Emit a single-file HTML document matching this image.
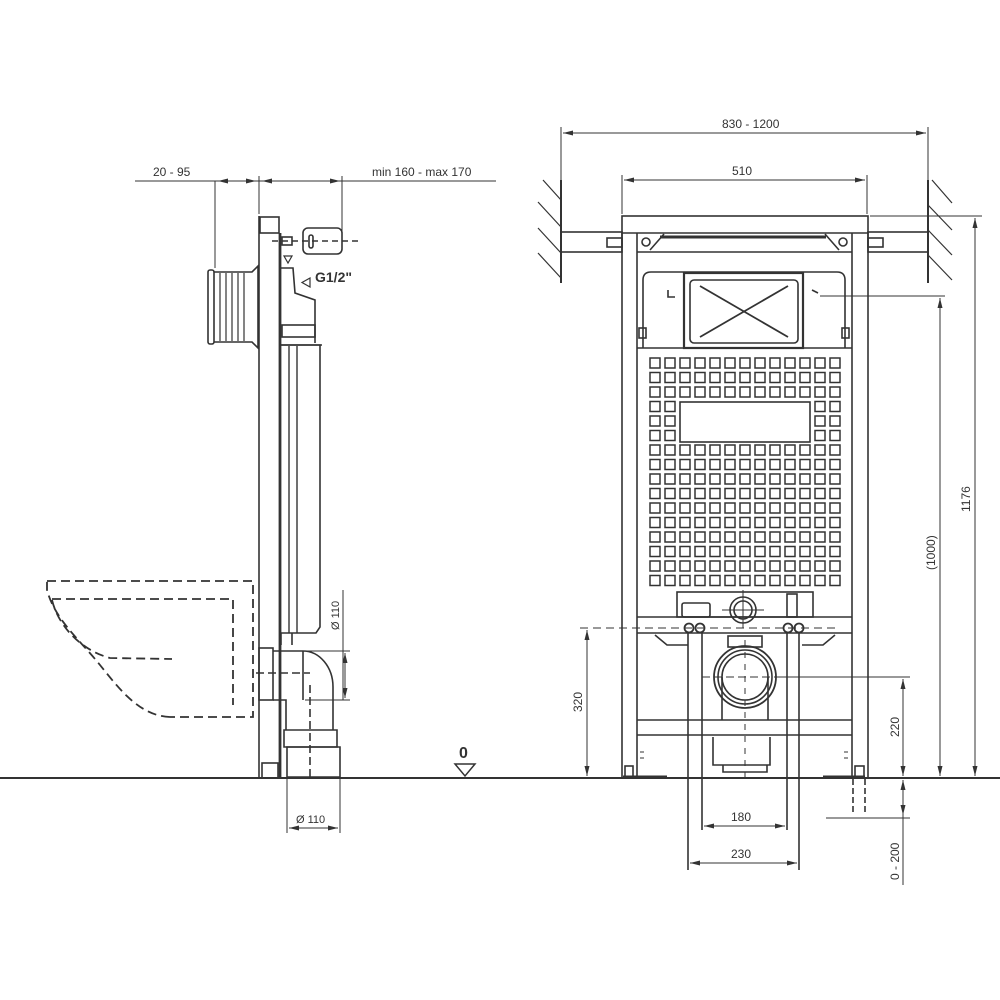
<!DOCTYPE html>
<html><head><meta charset="utf-8"><style>
html,body{margin:0;padding:0;background:#fff}
svg{display:block}
text{font-family:"Liberation Sans",sans-serif;font-size:12px;fill:#333}
</style></head><body>
<svg width="1000" height="1000" viewBox="0 0 1000 1000" xmlns="http://www.w3.org/2000/svg">
<defs>
<marker id="a" viewBox="0 0 10 6" refX="10" refY="3" markerWidth="10" markerHeight="6" orient="auto-start-reverse" markerUnits="userSpaceOnUse"><path d="M0,0.5 L10,3 L0,5.5 Z" fill="#333"/></marker>
</defs>
<g stroke="#333" stroke-width="1.6" fill="none">
<line x1="0" y1="778" x2="1000" y2="778" stroke-width="2"/>

<line x1="135" y1="181" x2="496" y2="181" stroke-width="1"/>
<line x1="215" y1="181" x2="215" y2="268" stroke-width="1"/>
<line x1="259" y1="176" x2="259" y2="214" stroke-width="1"/>
<line x1="342" y1="176" x2="342" y2="232" stroke-width="1"/>
<path d="M218,181 L230,181" marker-start="url(#a)" stroke-width="1"/>
<path d="M244,181 L256,181" marker-end="url(#a)" stroke-width="1"/>
<path d="M262,181 L274,181" marker-start="url(#a)" stroke-width="1"/>
<path d="M328,181 L340,181" marker-end="url(#a)" stroke-width="1"/>
<line x1="259" y1="216" x2="259" y2="778"/>
<line x1="280" y1="233" x2="280" y2="778" stroke-width="2.8"/>
<rect x="260" y="217" width="19" height="16"/>
<rect x="262" y="763" width="16" height="15"/>
<rect x="303" y="228" width="39" height="26" rx="5"/>
<line x1="272" y1="241" x2="362" y2="241" stroke-dasharray="6,4"/>
<rect x="282" y="237" width="10" height="8"/>
<rect x="309" y="235" width="4" height="13" rx="2"/>
<path d="M280,268 L293,268 L295,293 L315,300 L315,343"/>
<path d="M280,345 L322,345"/>
<rect x="282" y="325" width="33" height="12"/>
<path d="M284,256 L292,256 L288,263 Z" stroke-width="1.2"/>
<path d="M310,278 L310,287 L302,282.5 Z" stroke-width="1.2"/>
<rect x="208" y="270" width="6" height="74" rx="2"/>
<path d="M214,272 L252,272 L258,266 L258,348 L252,342 L214,342"/>
<g stroke-width="1.2"><line x1="220" y1="273" x2="220" y2="341"/><line x1="226" y1="273" x2="226" y2="341"/><line x1="232" y1="273" x2="232" y2="341"/><line x1="238" y1="273" x2="238" y2="341"/><line x1="244" y1="273" x2="244" y2="341"/></g>
<path d="M281,345 L320,345 L320,627 L316,633 L281,633"/>
<line x1="289" y1="346" x2="289" y2="633" stroke-width="1.4"/>
<line x1="297" y1="346" x2="297" y2="633" stroke-width="1.4"/>
<path d="M281,633 L281,645 M292,633 L292,645"/>
<g stroke-dasharray="9,5" stroke-width="1.8">
<path d="M47,581 L253,581 L253,717 L170,717"/>
<path d="M170,717 C140,716 120,690 100,665 C80,640 55,620 47,590 L47,581"/>
<path d="M52,599 L233,599 L233,705"/>
<path d="M52,600 C58,625 80,650 110,658 L172,659"/>
</g>
<rect x="259" y="648" width="14" height="52"/>
<path d="M273,651 L303,651 A30,36 0 0 1 333,687 L333,730"/>
<path d="M273,700 L286,700 L286,730"/>
<line x1="303" y1="651" x2="303" y2="700"/>
<line x1="256" y1="673" x2="310" y2="673" stroke-dasharray="8,4"/>
<line x1="310" y1="685" x2="310" y2="778" stroke-dasharray="8,4"/>
<path d="M284,730 L337,730 L337,747 L284,747 Z" />
<path d="M287,747 L340,747 L340,777 L287,777 Z"/>
<line x1="343" y1="590" x2="343" y2="700" stroke-width="1"/>
<line x1="305" y1="651" x2="350" y2="651" stroke-width="1"/>
<line x1="305" y1="700" x2="350" y2="700" stroke-width="1"/>
<path d="M345,653 L345,698" marker-start="url(#a)" marker-end="url(#a)" stroke-width="1"/>
<line x1="287" y1="779" x2="287" y2="833" stroke-width="1"/>
<line x1="340" y1="779" x2="340" y2="833" stroke-width="1"/>
<path d="M289,828 L338,828" marker-start="url(#a)" marker-end="url(#a)" stroke-width="1"/>
<path d="M455,764 L475,764 L465,776 Z" stroke-width="1.5"/>

<line x1="561" y1="127" x2="561" y2="185" stroke-width="1"/>
<line x1="928" y1="127" x2="928" y2="185" stroke-width="1"/>
<path d="M563,133 L926,133" marker-start="url(#a)" marker-end="url(#a)" stroke-width="1"/>
<line x1="622" y1="175" x2="622" y2="214" stroke-width="1"/>
<line x1="867" y1="175" x2="867" y2="214" stroke-width="1"/>
<path d="M624,180 L865,180" marker-start="url(#a)" marker-end="url(#a)" stroke-width="1"/>
<line x1="561" y1="180" x2="561" y2="283" stroke-width="2"/>
<line x1="928" y1="180" x2="928" y2="283" stroke-width="2"/>
<g stroke-width="1.2">
<line x1="543" y1="180" x2="561" y2="200"/><line x1="538" y1="202" x2="561" y2="227"/><line x1="538" y1="228" x2="561" y2="253"/><line x1="538" y1="253" x2="561" y2="278"/>
<line x1="932" y1="180" x2="952" y2="203"/><line x1="928" y1="205" x2="952" y2="230"/><line x1="928" y1="230" x2="952" y2="255"/><line x1="928" y1="255" x2="952" y2="280"/>
</g>
<rect x="561" y="232" width="61" height="20"/>
<rect x="607" y="238" width="15" height="9"/>
<rect x="868" y="232" width="60" height="20"/>
<rect x="868" y="238" width="15" height="9"/>
<rect x="622" y="216" width="246" height="562"/>
<line x1="637" y1="233" x2="637" y2="778"/>
<line x1="852" y1="233" x2="852" y2="778"/>
<line x1="622" y1="233" x2="868" y2="233"/>
<line x1="637" y1="252" x2="852" y2="252"/>
<line x1="660" y1="237" x2="826" y2="237" stroke-width="3"/>
<line x1="650" y1="250" x2="664" y2="234"/><line x1="839" y1="250" x2="825" y2="234"/>
<circle cx="646" cy="242" r="4"/><circle cx="843" cy="242" r="4"/>
<path d="M643,348 L643,280 Q643,272 651,272 L837,272 Q845,272 845,280 L845,348"/>
<line x1="637" y1="348" x2="852" y2="348"/>
<rect x="684" y="273" width="119" height="75" stroke-width="2.2"/>
<rect x="690" y="280" width="108" height="63" rx="4"/>
<line x1="700" y1="286" x2="788" y2="337" stroke-width="1.8"/>
<line x1="700" y1="337" x2="788" y2="286" stroke-width="1.8"/>
<rect x="639" y="328" width="7" height="10"/><rect x="842" y="328" width="7" height="10"/>
<path d="M668,290 L668,297 L675,297 M812,290 L818,293"/>
<line x1="820" y1="296" x2="945" y2="296" stroke-width="1"/>
<g id="grid" stroke-width="1.5"></g>
<rect x="680" y="402" width="130" height="40" stroke-width="1.6"/>
<rect x="677" y="592" width="136" height="25"/>
<rect x="682" y="603" width="28" height="14" rx="2"/>
<rect x="787" y="594" width="10" height="23"/>
<circle cx="743" cy="610" r="13"/><circle cx="743" cy="610" r="9"/>
<line x1="722" y1="610" x2="764" y2="610" stroke-width="1"/>
<line x1="743" y1="590" x2="743" y2="628" stroke-width="1"/>
<line x1="637" y1="617" x2="852" y2="617"/>
<line x1="637" y1="633" x2="852" y2="633"/>
<path d="M655,635 L667,645 L688,645 M835,635 L823,645 L802,645"/>
<line x1="580" y1="628" x2="840" y2="628" stroke-dasharray="8,5" stroke-width="1"/>
<g stroke-width="1.8"><circle cx="689" cy="628" r="4.5"/><circle cx="700" cy="628" r="4.5"/><circle cx="788" cy="628" r="4.5"/><circle cx="799" cy="628" r="4.5"/></g>
<line x1="688" y1="633" x2="688" y2="870"/>
<line x1="702" y1="633" x2="702" y2="830"/>
<line x1="787" y1="633" x2="787" y2="830"/>
<line x1="799" y1="633" x2="799" y2="870"/>
<rect x="728" y="636" width="34" height="11"/>
<path d="M722,677 L722,720 M768,677 L768,720"/>
<circle cx="745" cy="677" r="31" stroke-width="1.8"/>
<circle cx="745" cy="677" r="27"/><circle cx="745" cy="677" r="23"/>
<line x1="702" y1="677" x2="790" y2="677" stroke-dasharray="8,4" stroke-width="1"/>
<line x1="776" y1="677" x2="910" y2="677" stroke-width="1"/>
<line x1="637" y1="720" x2="852" y2="720"/>
<line x1="637" y1="735" x2="852" y2="735"/>
<path d="M713,737 L713,765 L770,765 L770,737 M723,765 L723,772 L767,772 L767,765"/>
<line x1="745" y1="640" x2="745" y2="780" stroke-dasharray="6,6" stroke-width="1"/>
<rect x="625" y="766" width="8" height="11"/>
<line x1="623" y1="777" x2="667" y2="777" stroke-width="3"/>
<rect x="855" y="766" width="9" height="11"/>
<line x1="823" y1="777" x2="865" y2="777" stroke-width="3"/>
<path d="M640,752 l4,0 M640,758 l4,0 M848,752 l-4,0 M848,758 l-4,0" stroke-width="1"/>
<path d="M587,630 L587,776" marker-start="url(#a)" marker-end="url(#a)" stroke-width="1"/>
<path d="M903,679 L903,776" marker-start="url(#a)" marker-end="url(#a)" stroke-width="1"/>
<path d="M903,780 L903,815" marker-start="url(#a)" marker-end="url(#a)" stroke-width="1"/>
<line x1="903" y1="815" x2="903" y2="885" stroke-width="1"/>
<line x1="826" y1="818" x2="910" y2="818" stroke-width="1"/>
<path d="M853,779 L853,815 M865,779 L865,815" stroke-dasharray="6,3"/>
<path d="M704,826 L785,826" marker-start="url(#a)" marker-end="url(#a)" stroke-width="1"/>
<path d="M690,863 L797,863" marker-start="url(#a)" marker-end="url(#a)" stroke-width="1"/>
<path d="M940,298 L940,776" marker-start="url(#a)" marker-end="url(#a)" stroke-width="1"/>
<line x1="870" y1="216" x2="982" y2="216" stroke-width="1"/>
<path d="M975,218 L975,776" marker-start="url(#a)" marker-end="url(#a)" stroke-width="1"/>
</g>
<text x="153" y="176">20 - 95</text>
<text x="372" y="176">min 160 - max 170</text>
<text x="315" y="282" style="font-weight:bold;font-size:14px">G1/2"</text>
<text x="296" y="823" style="font-size:11px">Ø 110</text>
<text transform="translate(339,630) rotate(-90)" style="font-size:11px">Ø 110</text>
<text x="459" y="758" style="font-weight:bold;font-size:16px">0</text>
<text x="722" y="128">830 - 1200</text>
<text x="732" y="175">510</text>
<text x="731" y="821">180</text>
<text x="731" y="858">230</text>
<text transform="translate(582,712) rotate(-90)">320</text>
<text transform="translate(899,737) rotate(-90)">220</text>
<text transform="translate(899,880) rotate(-90)">0 - 200</text>
<text transform="translate(935,570) rotate(-90)">(1000)</text>
<text transform="translate(970,512) rotate(-90)">1176</text>
</svg>
<script>
var g=document.getElementById('grid'),s='';
for(var r=0;r<16;r++)for(var c=0;c<13;c++){
 if(r>=3&&r<=5&&c>=2&&c<=10)continue;
 var cx=655+c*15,cy=363+r*14.5;
 s+='<rect x="'+(cx-5)+'" y="'+(cy-5)+'" width="10" height="10"/>';
}
g.innerHTML=s;
</script>
</body></html>
